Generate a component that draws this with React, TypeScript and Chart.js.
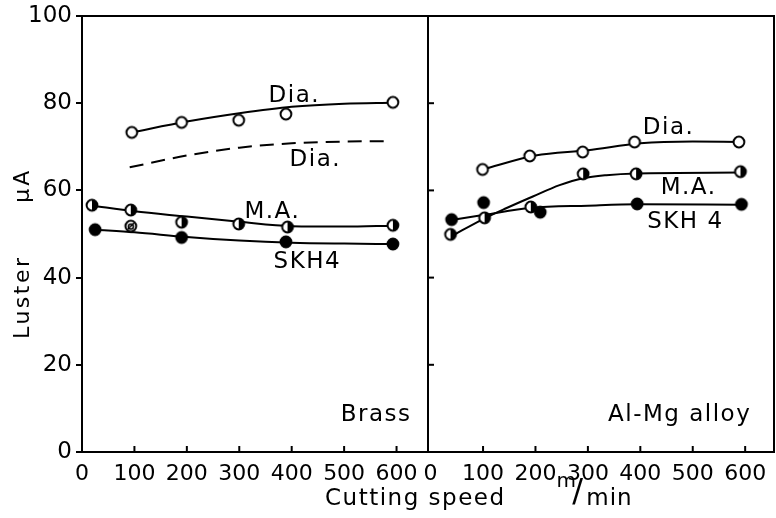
import { useEffect, useRef } from 'react';
import { Chart, registerables } from 'chart.js';

Chart.register(...registerables);

// ---- axes ----
const xTicks = [0, 100, 200, 300, 400, 500, 600];
const yTicks = [0, 20, 40, 60, 80, 100];

// ---- Brass panel ----
const brassDiaX = [95, 190, 299, 389, 593];
const brassDiaY = [73.3, 75.6, 76.1, 77.5, 80.2];
const brassDiaFitX = [95, 200, 300, 400, 500, 593];
const brassDiaFitY = [73.3, 75.8, 77.7, 79.2, 79.9, 80.1];
const brassDiaDashX = [91, 200, 300, 400, 500, 587];
const brassDiaDashY = [65.3, 68.0, 69.8, 70.8, 71.2, 71.3];
const brassMAX = [19, 93, 190, 299, 392, 593];
const brassMAY = [56.6, 55.5, 52.7, 52.3, 51.6, 52.0];
const brassMAFitX = [19, 100, 200, 300, 400, 500, 593];
const brassMAFitY = [56.5, 55.2, 54.0, 52.8, 51.8, 51.7, 51.9];
const brassSKHX = [25, 93, 190, 389, 593];
const brassSKHY = [51.0, 51.8, 49.2, 48.2, 47.7];
const brassSKHFitX = [25, 100, 200, 300, 400, 500, 593];
const brassSKHFitY = [51.0, 50.4, 49.3, 48.5, 48.0, 47.8, 47.7];

// ---- Al-Mg alloy panel ----
const almgDiaX = [99, 189, 290, 389, 588];
const almgDiaY = [64.8, 67.9, 68.8, 71.1, 71.1];
const almgDiaFitX = [99, 200, 300, 400, 500, 588];
const almgDiaFitY = [64.8, 68.0, 69.2, 70.8, 71.2, 71.1];
const almgMAX = [38, 103, 191, 291, 392, 591];
const almgMAY = [49.9, 53.7, 56.2, 63.8, 63.8, 64.3];
const almgMAFitX = [38, 103, 144, 195, 246, 291, 335, 392, 591];
const almgMAFitY = [49.4, 53.6, 55.9, 58.6, 61.2, 62.8, 63.5, 63.9, 64.1];
const almgSKHX = [40, 101, 209, 394, 593];
const almgSKHY = [53.3, 57.2, 55.0, 56.9, 56.8];
const almgSKHFitX = [40, 103, 191, 300, 394, 593];
const almgSKHFitY = [53.2, 54.4, 56.0, 56.5, 56.8, 56.7];

// ---- text labels (data units of each panel) ----
const brassLabelText = ['Dia.', 'Dia.', 'M.A.', 'SKH4', 'Brass'];
const brassLabelX = [405, 445, 363, 430, 561];
const brassLabelY = [81.7, 67.0, 55.0, 43.6, 8.5];
const almgLabelText = ['Dia.', 'M.A.', 'SKH 4', 'Al-Mg alloy'];
const almgLabelX = [454, 492, 486, 475];
const almgLabelY = [74.3, 60.5, 52.8, 8.5];

const FONT = "'DejaVu Sans', sans-serif";

const pts = (xs: number[], ys: number[]) => xs.map((x, i) => ({ x, y: ys[i] }));

function makeMarker(kind: string) {
  const c = document.createElement('canvas');
  c.width = 16;
  c.height = 16;
  const g = c.getContext('2d')!;
  g.lineWidth = 2;
  g.strokeStyle = '#000';
  g.beginPath();
  g.arc(8, 8, 5.4, 0, Math.PI * 2);
  g.fillStyle = kind === 'filled' ? '#000' : '#fff';
  g.fill();
  g.stroke();
  if (kind === 'half') {
    g.beginPath();
    g.arc(8, 8, 5.4, -Math.PI / 2, Math.PI / 2);
    g.closePath();
    g.fillStyle = '#000';
    g.fill();
  }
  if (kind === 'odd') {
    g.lineWidth = 1.5;
    g.beginPath();
    g.arc(8, 8.5, 2.5, 0, Math.PI * 2);
    g.stroke();
    g.beginPath();
    g.moveTo(5, 11);
    g.lineTo(11, 5);
    g.stroke();
  }
  return c;
}

const panelPlugin = {
  id: 'panels',
  beforeDatasetsDraw(chart: any) {
    const { ctx, chartArea: a, scales } = chart;
    const panels = [scales.xL, scales.xR];
    ctx.save();
    ctx.strokeStyle = '#000';
    ctx.lineWidth = 2;
    panels.forEach((s: any) => {
      ctx.strokeRect(s.left, a.top, s.right - s.left, a.bottom - a.top);
      xTicks.forEach((v) => {
        if (v === 0) return;
        const px = s.getPixelForValue(v);
        ctx.beginPath();
        ctx.moveTo(px, a.bottom);
        ctx.lineTo(px, a.bottom - 6);
        ctx.stroke();
      });
    });
    yTicks.forEach((v) => {
      if (v === 0 || v === 100) return;
      const py = scales.y.getPixelForValue(v);
      ctx.beginPath();
      ctx.moveTo(scales.xR.left, py);
      ctx.lineTo(scales.xR.left + 6, py);
      ctx.stroke();
    });
    ctx.restore();
  },
  afterDatasetsDraw(chart: any) {
    const { ctx, chartArea: a, scales } = chart;
    const y = scales.y;
    ctx.save();
    ctx.fillStyle = '#000';
    ctx.textBaseline = 'middle';
    ctx.textAlign = 'center';
    ctx.font = `23px ${FONT}`;
    (ctx as any).letterSpacing = '1.5px';
    brassLabelText.forEach((t, i) => {
      ctx.fillText(t, scales.xL.getPixelForValue(brassLabelX[i]), y.getPixelForValue(brassLabelY[i]));
    });
    almgLabelText.forEach((t, i) => {
      ctx.fillText(t, scales.xR.getPixelForValue(almgLabelX[i]), y.getPixelForValue(almgLabelY[i]));
    });

    // y axis title
    ctx.font = `22px ${FONT}`;
    (ctx as any).letterSpacing = '2.5px';
    ctx.save();
    ctx.translate(y.left + 23, y.getPixelForValue(35.5));
    ctx.rotate(-Math.PI / 2);
    ctx.fillText('Luster', 0, 0);
    ctx.restore();
    (ctx as any).letterSpacing = '3px';
    ctx.save();
    ctx.translate(y.left + 23, y.getPixelForValue(61.2));
    ctx.rotate(-Math.PI / 2);
    ctx.fillText('μA', 0, 0);
    ctx.restore();

    // x axis title
    const base = a.bottom + 53;
    ctx.textBaseline = 'alphabetic';
    ctx.textAlign = 'right';
    ctx.font = `23px ${FONT}`;
    (ctx as any).letterSpacing = '1.5px';
    ctx.fillText('Cutting speed', scales.xR.getPixelForValue(143), base);
    ctx.textAlign = 'left';
    (ctx as any).letterSpacing = '0px';
    ctx.font = `20px ${FONT}`;
    ctx.fillText('m', scales.xR.getPixelForValue(240), base - 18);
    ctx.font = `32px ${FONT}`;
    ctx.fillText('/', scales.xR.getPixelForValue(270), base - 4);
    ctx.font = `23px ${FONT}`;
    (ctx as any).letterSpacing = '1px';
    ctx.fillText('min', scales.xR.getPixelForValue(297), base);
    ctx.restore();
  },
};

export default function App() {
  const ref = useRef<HTMLCanvasElement>(null);
  useEffect(() => {
    if (!ref.current) return;
    const open = makeMarker('open');
    const half = makeMarker('half');
    const filled = makeMarker('filled');
    const odd = makeMarker('odd');

    const fit = (xs: number[], ys: number[], axis: string, dash: number[] = []) => ({
      data: pts(xs, ys),
      xAxisID: axis,
      yAxisID: 'y',
      showLine: true,
      borderColor: '#000',
      borderWidth: 2,
      borderDash: dash,
      pointRadius: 0,
      tension: 0.4,
      cubicInterpolationMode: 'monotone',
      fill: false,
      order: 2,
    });
    const marks = (xs: number[], ys: number[], axis: string, style: any) => ({
      data: pts(xs, ys),
      xAxisID: axis,
      yAxisID: 'y',
      showLine: false,
      pointStyle: style,
      pointRadius: 6,
      borderColor: '#000',
      backgroundColor: '#000',
      order: 1,
    });

    const tickFont = { family: FONT, size: 23 };
    const xTickFont = { family: FONT, size: 22 };
    const xScale = (min: number, max: number) => ({
      type: 'linear',
      axis: 'x',
      position: 'bottom',
      stack: 'speed',
      stackWeight: 1,
      min,
      max,
      grid: { display: false, drawTicks: false },
      border: { display: false },
      ticks: { color: '#000', font: xTickFont, padding: 9, maxRotation: 0, autoSkip: false },
      afterBuildTicks: (s: any) => {
        s.ticks = xTicks.map((v) => ({ value: v }));
      },
      afterFit: (s: any) => {
        s.height = 66;
        s.paddingLeft = 0;
        s.paddingRight = 0;
        s.paddingTop = 0;
        s.paddingBottom = 0;
      },
    });

    const chart = new Chart(ref.current, {
      type: 'line',
      data: {
        datasets: [
          fit(brassDiaFitX, brassDiaFitY, 'xL'),
          fit(brassDiaDashX, brassDiaDashY, 'xL', [14, 8]),
          fit(brassMAFitX, brassMAFitY, 'xL'),
          fit(brassSKHFitX, brassSKHFitY, 'xL'),
          marks(brassDiaX, brassDiaY, 'xL', open),
          marks(brassMAX, brassMAY, 'xL', half),
          marks(brassSKHX, brassSKHY, 'xL', [filled, odd, filled, filled, filled]),
          fit(almgDiaFitX, almgDiaFitY, 'xR'),
          fit(almgMAFitX, almgMAFitY, 'xR'),
          fit(almgSKHFitX, almgSKHFitY, 'xR'),
          marks(almgDiaX, almgDiaY, 'xR', open),
          marks(almgMAX, almgMAY, 'xR', half),
          marks(almgSKHX, almgSKHY, 'xR', filled),
        ] as any,
      },
      options: {
        animation: false,
        responsive: false,
        events: [],
        layout: { autoPadding: false, padding: { top: 16, right: 2, left: 0, bottom: 0 } },
        plugins: { legend: { display: false }, tooltip: { enabled: false } },
        scales: {
          xL: xScale(0, 660),
          xR: xScale(-5, 655),
          y: {
            type: 'linear',
            position: 'left',
            min: 0,
            max: 100,
            grid: { display: true, drawOnChartArea: false, drawTicks: true, tickLength: 6, color: '#000', lineWidth: 2 },
            border: { display: false },
            ticks: { color: '#000', font: tickFont, padding: 4 },
            afterBuildTicks: (s: any) => {
              s.ticks = yTicks.map((v) => ({ value: v }));
            },
            afterFit: (s: any) => {
              s.width = 82;
              s.paddingTop = 0;
              s.paddingBottom = 0;
              s.paddingLeft = 0;
              s.paddingRight = 0;
            },
          },
        } as any,
      },
      plugins: [panelPlugin],
    });
    return () => chart.destroy();
  }, []);

  return (
    <div style={{ position: 'absolute', left: 0, top: 0, width: 776, height: 518, background: '#fff' }}>
      <canvas ref={ref} width={776} height={518} style={{ width: 776, height: 518, display: 'block' }} />
    </div>
  );
}
